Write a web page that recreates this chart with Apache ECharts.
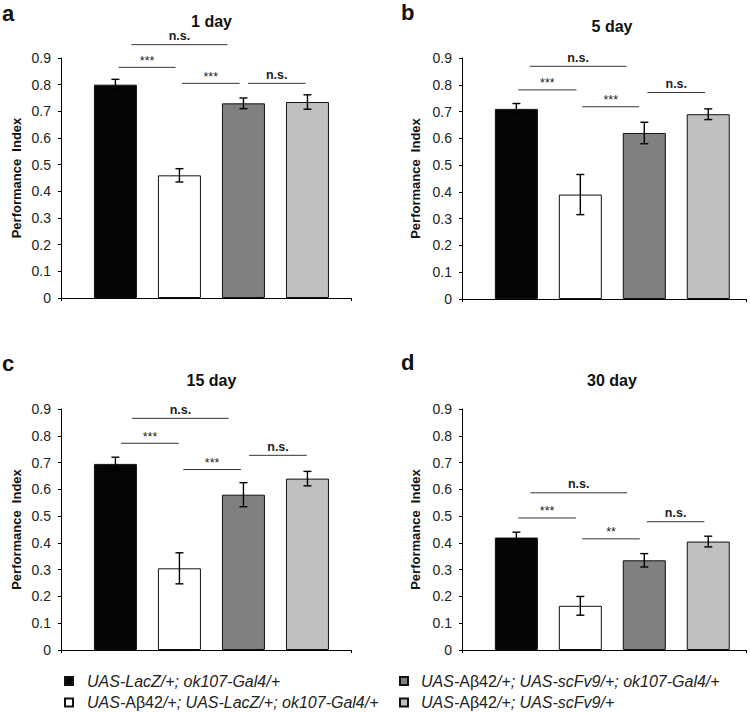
<!DOCTYPE html>
<html>
<head>
<meta charset="utf-8">
<script src="https://cdn.jsdelivr.net/npm/echarts@6/dist/echarts.min.js"></script>
<style>
html,body{margin:0;padding:0;background:#fff;}
#chart{width:750px;height:713px;}
</style>
</head>
<body>
<div id="chart"></div>
<script>
// ---------- data ----------
const genotypes = [
  'UAS-LacZ/+; ok107-Gal4/+',
  'UAS-Aβ42/+; UAS-LacZ/+; ok107-Gal4/+',
  'UAS-Aβ42/+; UAS-scFv9/+; ok107-Gal4/+',
  'UAS-Aβ42/+; UAS-scFv9/+'
];
const barColors = ['#050505', '#ffffff', '#808080', '#c0c0c0'];
const panelTitles = ['1 day', '5 day', '15 day', '30 day'];
const panelLetters = ['a', 'b', 'c', 'd'];
const yTicks = [0, 0.1, 0.2, 0.3, 0.4, 0.5, 0.6, 0.7, 0.8, 0.9];

const day1Mean = [0.80, 0.46, 0.73, 0.735];
const day1Err  = [0.02, 0.025, 0.02, 0.027];
const day5Mean = [0.71, 0.39, 0.62, 0.69];
const day5Err  = [0.02, 0.075, 0.04, 0.02];
const day15Mean = [0.695, 0.305, 0.58, 0.64];
const day15Err  = [0.025, 0.058, 0.045, 0.027];
const day30Mean = [0.42, 0.165, 0.335, 0.405];
const day30Err  = [0.02, 0.035, 0.025, 0.02];

// significance brackets: [from x, to x, y, label]
const day1Sig = [[1.25, 2.75, 0.95, 'n.s.'], [1.05, 1.94, 0.865, '***'], [2.04, 2.94, 0.805, '***'], [3.07, 3.97, 0.805, 'n.s.']];
const day5Sig = [[1.21, 2.72, 0.869, 'n.s.'], [1.03, 1.94, 0.781, '***'], [2.03, 2.92, 0.718, '***'], [3.05, 3.95, 0.771, 'n.s.']];
const day15Sig = [[1.26, 2.77, 0.865, 'n.s.'], [1.09, 1.99, 0.772, '***'], [2.06, 2.96, 0.674, '***'], [3.09, 3.99, 0.727, 'n.s.']];
const day30Sig = [[1.22, 2.73, 0.587, 'n.s.'], [1.03, 1.93, 0.493, '***'], [2.03, 2.93, 0.415, '**'], [3.04, 3.94, 0.479, 'n.s.']];

const means = [day1Mean, day5Mean, day15Mean, day30Mean];
const errs = [day1Err, day5Err, day15Err, day30Err];
const sigs = [day1Sig, day5Sig, day15Sig, day30Sig];

// ---------- layout ----------
const FONT = 'Arial, "Liberation Sans", Helvetica, sans-serif';
const grids = [
  {left: 61, top: 58, width: 290, height: 240},
  {left: 462, top: 58, width: 284, height: 241},
  {left: 61, top: 409, width: 290, height: 241},
  {left: 462, top: 409, width: 284, height: 241}
];
const xMin = 0.15;
const xMaxes = [4.68, 4.59, 4.68, 4.59];
const nameGaps = [38, 40, 38, 40];
const titlePos = [[211.5, 21], [612, 26], [211.5, 380], [612, 380]];
const letterPos = [[2, 13], [401, 12], [2, 363], [401, 362]];
const legendPos = [[64, 673, 9], [64, 694.5, 9], [399, 673, 8], [399, 694.5, 8]];

const chart = echarts.init(document.getElementById('chart'), null, {renderer: 'svg'});

const xAxes = [], yAxes = [], series = [], graphics = [];
for (let p = 0; p < 4; p++) {
  xAxes.push({
    gridIndex: p, type: 'value', min: xMin, max: xMaxes[p], interval: xMaxes[p] - xMin,
    axisLine: {show: true, lineStyle: {color: '#000', width: 1}},
    axisTick: {show: true, length: 3, lineStyle: {color: '#000'}},
    axisLabel: {show: false}, splitLine: {show: false}
  });
  yAxes.push({
    gridIndex: p, type: 'value', min: yTicks[0], max: yTicks[yTicks.length - 1], interval: 0.1,
    name: 'Performance  Index', nameLocation: 'middle', nameRotate: 90, nameGap: nameGaps[p],
    nameTextStyle: {fontFamily: FONT, fontSize: 13, fontWeight: 'bold', color: '#111'},
    axisLine: {show: true, lineStyle: {color: '#000', width: 1}},
    axisTick: {show: true, length: 3, lineStyle: {color: '#000'}},
    axisLabel: {fontFamily: FONT, fontSize: 14, color: '#222', margin: 10,
      formatter: v => (Math.abs(v) < 1e-9 ? '0' : v.toFixed(1))},
    splitLine: {show: false}
  });
  for (let g = 0; g < 4; g++) {
    series.push({
      name: genotypes[g], type: 'bar', xAxisIndex: p, yAxisIndex: p,
      barWidth: 43, barGap: '-100%',
      itemStyle: {color: barColors[g], borderColor: '#111', borderWidth: 1},
      emphasis: {disabled: true},
      data: [[g + 1, means[p][g]]], z: 2
    });
  }
  const errData = means[p].map((m, g) => [g + 1, m, errs[p][g]]);
  series.push({
    type: 'custom', xAxisIndex: p, yAxisIndex: p, z: 5, silent: true,
    data: errData,
    renderItem: function (params, api) {
      const x = api.value(0), m = api.value(1), e = api.value(2);
      const t = api.coord([x, m + e]);
      const b = api.coord([x, m - e]);
      const st = {stroke: '#000', lineWidth: 1.4};
      return {type: 'group', children: [
        {type: 'line', shape: {x1: t[0], y1: t[1], x2: b[0], y2: b[1]}, style: st},
        {type: 'line', shape: {x1: t[0] - 4, y1: t[1], x2: t[0] + 4, y2: t[1]}, style: st},
        {type: 'line', shape: {x1: b[0] - 4, y1: b[1], x2: b[0] + 4, y2: b[1]}, style: st}
      ]};
    }
  });
  const sigArr = sigs[p];
  series.push({
    type: 'custom', xAxisIndex: p, yAxisIndex: p, z: 6, silent: true, clip: false,
    data: sigArr.map(s => [s[0], s[1], s[2]]),
    renderItem: function (params, api) {
      const s = sigArr[params.dataIndex];
      const a = api.coord([s[0], s[2]]);
      const b = api.coord([s[1], s[2]]);
      const isNs = s[3] === 'n.s.';
      return {type: 'group', children: [
        {type: 'line', shape: {x1: a[0], y1: a[1], x2: b[0], y2: b[1]}, style: {stroke: '#333', lineWidth: 1}},
        {type: 'text', x: (a[0] + b[0]) / 2, y: a[1] - (isNs ? 2 : 0),
          style: {text: s[3], fontFamily: FONT, fontSize: isNs ? 12.5 : 12.5, fontWeight: isNs ? 'bold' : 'normal',
            fill: '#222', align: 'center', verticalAlign: 'bottom'}}
      ]};
    }
  });
  graphics.push({type: 'text', x: titlePos[p][0], y: titlePos[p][1],
    style: {text: panelTitles[p], fontFamily: FONT, fontSize: 16, fontWeight: 'bold', fill: '#111', align: 'center', verticalAlign: 'middle'}});
  graphics.push({type: 'text', x: letterPos[p][0], y: letterPos[p][1],
    style: {text: panelLetters[p], fontFamily: FONT, fontSize: 22, fontWeight: 'bold', fill: '#111', align: 'left', verticalAlign: 'middle'}});
}

const legendRich = {
  i: {fontFamily: FONT, fontSize: 16, fontStyle: 'italic', color: '#222', lineHeight: 18},
  n: {fontFamily: FONT, fontSize: 16, fontStyle: 'normal', color: '#222', lineHeight: 18}
};
function legendFormatter(name) {
  const parts = name.split('Aβ42');
  return parts.map(s => '{i|' + s + '}').join('{n|Aβ42}');
}
const legends = legendPos.map((pos, g) => ({
  left: pos[0], top: pos[1], padding: 0, orient: 'vertical',
  icon: 'rect', itemWidth: 8, itemHeight: 8,
  selectedMode: false, formatter: legendFormatter,
  data: [genotypes[g]],
  textStyle: {fontFamily: FONT, fontSize: 16, color: '#222', rich: legendRich, padding: [0, 0, 0, pos[2]]}
}));

chart.setOption({
  animation: false,
  backgroundColor: '#fff',
  grid: grids,
  xAxis: xAxes,
  yAxis: yAxes,
  legend: legends,
  graphic: graphics,
  series: series
});
</script>
</body>
</html>
